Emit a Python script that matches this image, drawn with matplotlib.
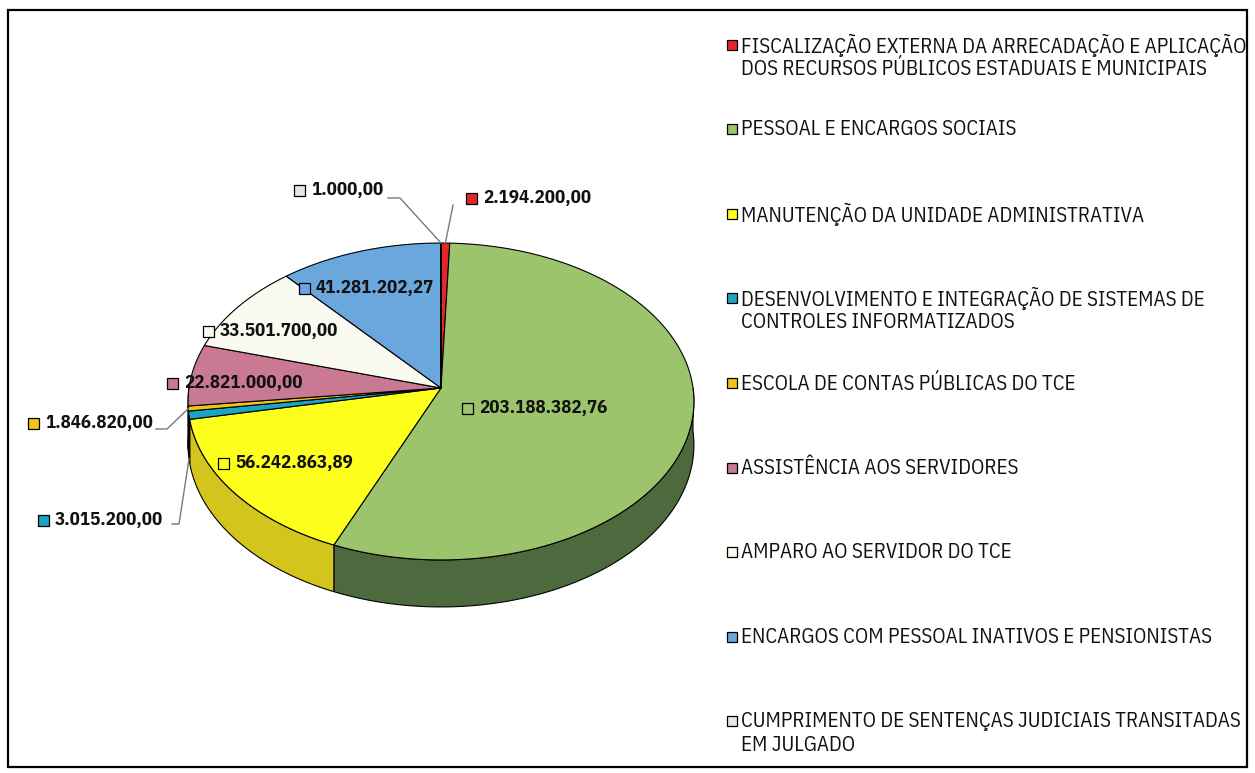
import numpy as np
import matplotlib
matplotlib.use("Agg")
import matplotlib.pyplot as plt
from matplotlib.patches import Polygon, Rectangle
from matplotlib import font_manager

# ---------------- data ----------------
categories = [
    "FISCALIZAÇÃO EXTERNA DA ARRECADAÇÃO E APLICAÇÃO\nDOS RECURSOS PÚBLICOS ESTADUAIS E MUNICIPAIS",
    "PESSOAL E ENCARGOS SOCIAIS",
    "MANUTENÇÃO DA UNIDADE ADMINISTRATIVA",
    "DESENVOLVIMENTO E INTEGRAÇÃO DE SISTEMAS DE\nCONTROLES INFORMATIZADOS",
    "ESCOLA DE CONTAS PÚBLICAS DO TCE",
    "ASSISTÊNCIA AOS SERVIDORES",
    "AMPARO AO SERVIDOR DO TCE",
    "ENCARGOS COM PESSOAL INATIVOS E PENSIONISTAS",
    "CUMPRIMENTO DE SENTENÇAS JUDICIAIS TRANSITADAS\nEM JULGADO",
]
values = [2194200.00, 203188382.76, 56242863.89, 3015200.00, 1846820.00,
          22821000.00, 33501700.00, 41281202.27, 1000.00]

# ---------------- styles ----------------
top_colors = ["#e3262b", "#9cc46c", "#ffff1e", "#1aa5c6", "#f0c419",
              "#c97a92", "#fbfaf0", "#6aa7dc", "#ebe3e6"]
side_colors = ["#a81a1e", "#4d6a3e", "#d4c41e", "#127a92", "#b89212",
               "#96586c", "#c8c6ba", "#4a7aa8", "#b0a8aa"]

fonts = {}
for f in font_manager.fontManager.ttflist:
    fonts.setdefault(f.name, set()).add(f.weight)
NARROW = "Liberation Sans"
for cand in ["Liberation Sans Narrow", "Arial Narrow", "IBM Plex Sans Condensed",
             "PT Sans Narrow", "Roboto Condensed"]:
    if cand in fonts and 700 in fonts[cand] and 400 in fonts[cand]:
        NARROW = cand
        break
plt.rcParams["font.family"] = [NARROW, "DejaVu Sans"]

W, H = 1255, 773
fig = plt.figure(figsize=(W / 100, H / 100), dpi=100)
ax = fig.add_axes([0, 0, 1, 1])
ax.set_xlim(0, W)
ax.set_ylim(H, 0)
ax.axis("off")

# outer frame
ax.add_patch(Rectangle((8, 10), 1239, 757, fill=False, ec="black", lw=1.6, zorder=0))

# ---------------- pseudo-3D pie geometry ----------------
CX, CY, RX, RY, DEPTH, PERSP = 441, 388, 252, 157.3, 43, 11.75


def proj(phi, drop=0.0):
    p = np.radians(phi)
    s = PERSP / (PERSP + np.sin(p))
    x = CX + RX * np.cos(p) * s
    y = CY - RY * np.sin(p) * s + drop * DEPTH * s
    return x, y


vals = np.array(values)
fr = vals / vals.sum()
starts = 90 - np.concatenate([[0], np.cumsum(fr)[:-1]]) * 360
ends = starts - fr * 360
mids = (starts + ends) / 2

# side walls (front half only)
for i in range(len(vals)):
    lo, hi = max(ends[i], -180), min(starts[i], 0)
    if hi > lo:
        ph = np.linspace(lo, hi, 80)
        xt, yt = proj(ph)
        xb, yb = proj(ph[::-1], 1)
        ax.add_patch(Polygon(np.column_stack([np.r_[xt, xb], np.r_[yt, yb]]),
                             closed=True, fc=side_colors[i], ec="black", lw=0.8, zorder=2))

# top faces
for i in range(len(vals)):
    n = max(2, int(abs(starts[i] - ends[i]) * 2))
    ph = np.linspace(starts[i], ends[i], n)
    x, y = proj(ph)
    ax.add_patch(Polygon(np.column_stack([np.r_[CX, x], np.r_[CY, y]]),
                         closed=True, fc=top_colors[i], ec="black", lw=0.8, zorder=3,
                         joinstyle="round"))

# ---------------- data labels ----------------
def br(v):
    s = f"{v:,.2f}"
    return s.replace(",", "X").replace(".", ",").replace("X", ".")

label_pos = [(466, 198), (462, 408), (218, 463), (38, 520), (28, 423),
             (167, 383), (203, 331), (299, 288), (294, 190)]
for i, (lx, ly) in enumerate(label_pos):
    ax.add_patch(Rectangle((lx, ly - 5.5), 11, 11, fc=top_colors[i], ec="black", lw=0.9, zorder=5))
    ax.text(lx + 17, ly, br(values[i]), ha="left", va="center", fontsize=13.6,
            fontweight="bold", color="#111111", zorder=6)

# leader lines for small slices
lead = {0: ([453], [205], 0), 8: ([388, 400], [198, 198], 0),
        4: ([156, 167], [429, 429], 0), 3: ([172, 179], [524, 524], 1)}
for i, (xs, ys, drop) in lead.items():
    ex, ey = proj(mids[i], drop)
    ax.plot(xs + [ex], ys + [ey], color="#7a7a7a", lw=1.0, zorder=4)

# ---------------- legend ----------------
LX, LY0, LDY, LINE = 727, 45, 84.6, 24
for i, cat in enumerate(categories):
    y = LY0 + i * LDY
    ax.add_patch(Rectangle((LX, y - 5.5), 10, 10, fc=top_colors[i], ec="black", lw=0.9, zorder=5))
    for j, line in enumerate(cat.split("\n")):
        ax.text(LX + 14, y + j * LINE, line, ha="left", va="center", fontsize=15.0,
                color="#111111")

fig.savefig("out.png", dpi=100, facecolor="white")
